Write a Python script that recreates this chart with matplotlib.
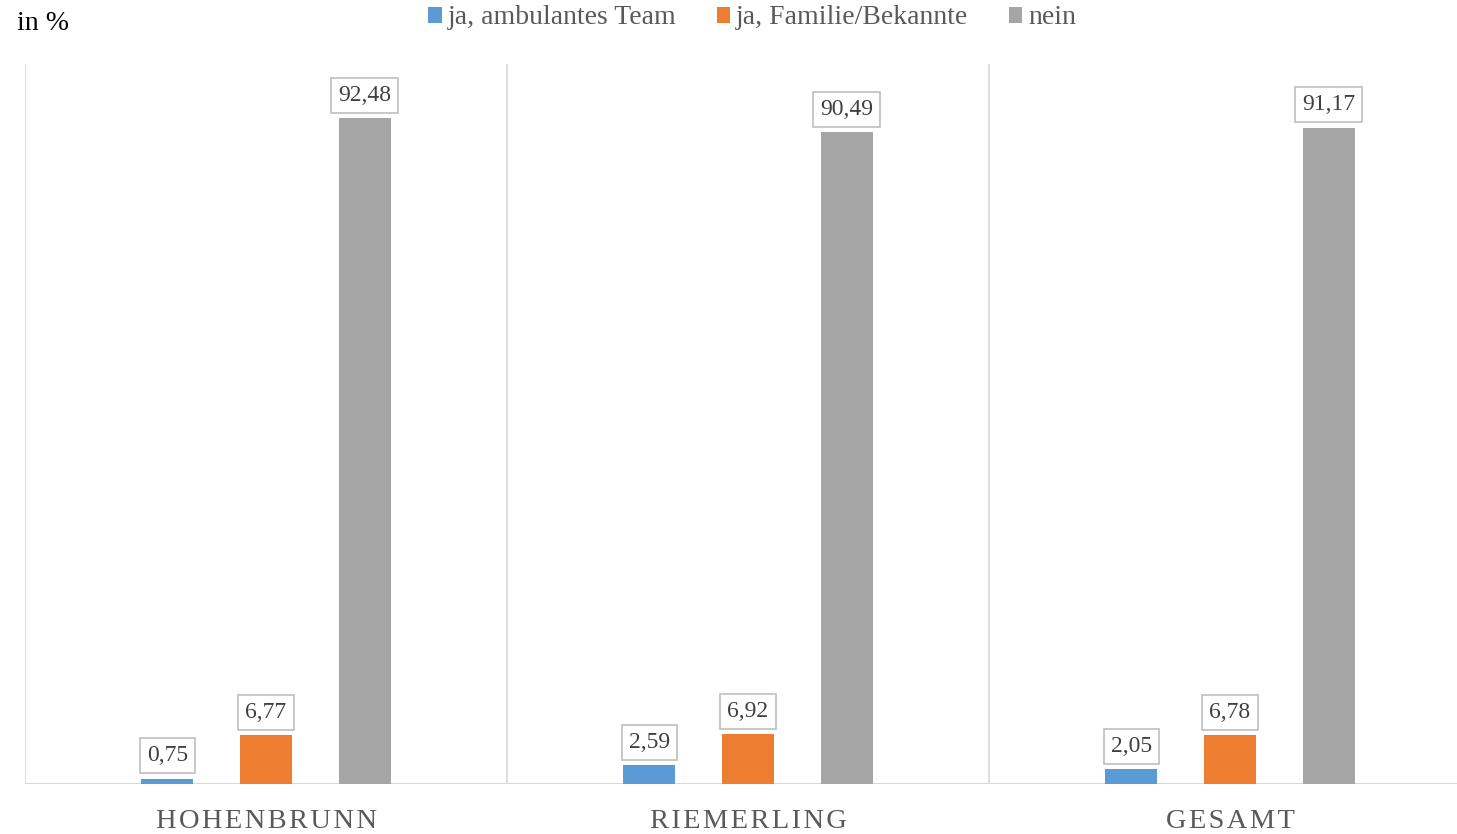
import matplotlib.pyplot as plt
import numpy as np

# data
categories = ['HOHENBRUNN', 'RIEMERLING', 'GESAMT']
series_names = ['ja, ambulantes Team', 'ja, Familie/Bekannte', 'nein']
ambulant = [0.75, 2.59, 2.05]
familie = [6.77, 6.92, 6.78]
nein = [92.48, 90.49, 91.17]

colors = ['#5B9BD5', '#ED7D31', '#A5A5A5']
serif = ['Liberation Serif', 'DejaVu Serif']

plt.rcParams['font.family'] = serif

fig = plt.figure(figsize=(14.57, 8.34), dpi=100)
# axes spans x 25..1457 px, y 64..784 px
ax = fig.add_axes([25 / 1457, 50 / 834, 1432 / 1457, 720 / 834])

x = np.arange(len(categories))
width = 0.108
step = 0.205
all_series = [ambulant, familie, nein]

for i, vals in enumerate(all_series):
    pos = x + (i - 1) * step
    bars = ax.bar(pos, vals, width, color=colors[i], label=series_names[i], zorder=3)
    for b, v in zip(bars, vals):
        ax.annotate(f'{v:.2f}'.replace('.', ','),
                    (b.get_x() + b.get_width() / 2, v),
                    xytext=(0, 9), textcoords='offset points',
                    ha='center', va='bottom', fontsize=17, color='#404040',
                    bbox=dict(boxstyle='square,pad=0.3', fc='white', ec='#BFBFBF', lw=1.2),
                    zorder=4)

ax.set_xlim(-0.5, -0.5 + 1432 / 482)
ax.set_ylim(0, 100)

# category separators
for s in [-0.5, 0.5, 1.5]:
    ax.axvline(s, color='#D9D9D9', lw=1.2, zorder=1)
ax.axhline(0, color='#D9D9D9', lw=1.5, zorder=2)

for sp in ax.spines.values():
    sp.set_visible(False)
ax.set_yticks([])
ax.set_xticks(x)
spaced = ['\u200a'.join(c) for c in categories]
ax.set_xticklabels(spaced, fontsize=20.5, color='#595959')
ax.tick_params(axis='x', length=0, pad=18)

fig.text(17 / 1457, 1 - 24 / 834, 'in %', fontsize=20, color='black', va='center', ha='left')

leg = fig.legend(loc='center', bbox_to_anchor=(752 / 1457, 1 - 18 / 834), ncol=3,
                 frameon=False, fontsize=20, handlelength=0.5, handleheight=0.5,
                 handletextpad=0.2, columnspacing=1.45, labelcolor='#595959')

fig.savefig('out.png', dpi=100)
